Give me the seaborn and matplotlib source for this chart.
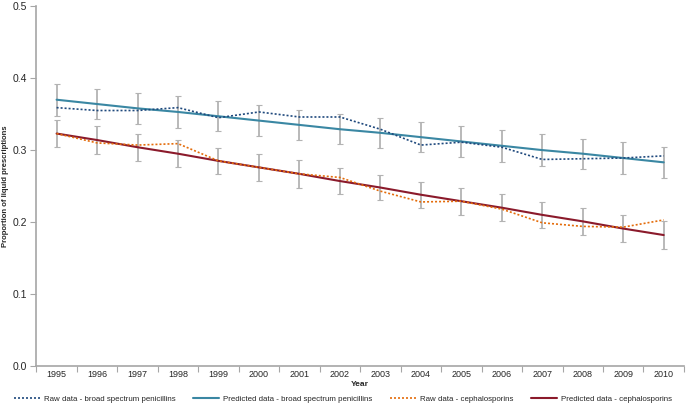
import numpy as np
import pandas as pd
import matplotlib
matplotlib.use("Agg")
import matplotlib.pyplot as plt
import seaborn as sns

years = list(range(1995, 2011))

pen_raw = [0.359, 0.355, 0.355, 0.359, 0.345, 0.353, 0.346, 0.346,
           0.329, 0.307, 0.311, 0.304, 0.287, 0.288, 0.289, 0.292]
pen_pred = [0.370, 0.364, 0.358, 0.353, 0.347, 0.341, 0.335, 0.329,
            0.324, 0.318, 0.312, 0.306, 0.300, 0.295, 0.289, 0.283]
pen_err = [0.022, 0.021, 0.022, 0.022, 0.021, 0.021, 0.021, 0.021,
           0.021, 0.021, 0.021, 0.022, 0.022, 0.021, 0.022, 0.022]

ceph_raw = [0.323, 0.310, 0.307, 0.309, 0.285, 0.276, 0.267, 0.262,
            0.243, 0.228, 0.229, 0.218, 0.199, 0.194, 0.193, 0.203]
ceph_pred = [0.323, 0.314, 0.304, 0.295, 0.285, 0.276, 0.267, 0.257,
             0.248, 0.238, 0.229, 0.220, 0.210, 0.201, 0.191, 0.182]
ceph_err = [0.019, 0.019, 0.019, 0.019, 0.018, 0.019, 0.019, 0.018,
            0.018, 0.018, 0.019, 0.019, 0.018, 0.019, 0.019, 0.020]

df = pd.DataFrame({
    "Year": years,
    "pen_raw": pen_raw,
    "pen_pred": pen_pred,
    "ceph_raw": ceph_raw,
    "ceph_pred": ceph_pred,
})

sns.set_style("white")
plt.rcParams["font.family"] = ["Liberation Sans", "DejaVu Sans"]

fig, ax = plt.subplots(figsize=(6.86, 4.09), dpi=100)
fig.subplots_adjust(left=0.053, right=0.997, top=0.985, bottom=0.105)

# error bars sit on the predicted values
err_color = "#b3b3b3"
ax.errorbar(df["Year"], df["pen_pred"], yerr=pen_err, fmt="none",
            ecolor=err_color, elinewidth=1.3, capsize=2.5, capthick=0.8, zorder=1)
ax.errorbar(df["Year"], df["ceph_pred"], yerr=ceph_err, fmt="none",
            ecolor=err_color, elinewidth=1.3, capsize=2.5, capthick=0.8, zorder=1)

sns.lineplot(data=df, x="Year", y="pen_raw", ax=ax, color="#1f497d",
             linestyle=(0, (1.2, 1.2)), linewidth=1.2,
             label="Raw data - broad spectrum penicillins", zorder=3)
sns.lineplot(data=df, x="Year", y="pen_pred", ax=ax, color="#3a87a3",
             linewidth=1.5, label="Predicted data - broad spectrum penicillins", zorder=2)
sns.lineplot(data=df, x="Year", y="ceph_raw", ax=ax, color="#e46c0a",
             linestyle=(0, (1.2, 1.2)), linewidth=1.2,
             label="Raw data - cephalosporins", zorder=3)
sns.lineplot(data=df, x="Year", y="ceph_pred", ax=ax, color="#8b1a2b",
             linewidth=1.5, label="Predicted data - cephalosporins", zorder=2)

ax.set_xlim(years[0] - 0.5, years[-1] + 0.5)
ax.set_ylim(0, 0.5)
ax.set_xticks(years)
ax.set_xticklabels([str(y) for y in years], fontsize=6.5)
ax.set_xticks(np.arange(years[0] - 0.5, years[-1] + 1, 1), minor=True)
ax.tick_params(axis="x", which="major", length=0, pad=3)
ax.tick_params(axis="x", which="minor", length=4, width=0.8, color="#a6a6a6", direction="out")
ax.set_yticks([0.0, 0.1, 0.2, 0.3, 0.4, 0.5])
ax.set_yticklabels(["0.0", "0.1", "0.2", "0.3", "0.4", "0.5"], fontsize=7.5)
ax.tick_params(axis="y", length=4, width=0.8, color="#a6a6a6", direction="out", pad=3)
ax.xaxis.set_ticks_position("bottom")
ax.yaxis.set_ticks_position("left")

for s in ["top", "right"]:
    ax.spines[s].set_visible(False)
for s in ["left", "bottom"]:
    ax.spines[s].set_color("#a6a6a6")
    ax.spines[s].set_linewidth(1.2)

ax.set_xlabel("Year", fontsize=6, fontweight="bold", labelpad=1)
ax.set_ylabel("Proportion of liquid prescriptions", fontsize=5.5, fontweight="bold", labelpad=2)

ax.legend(loc="lower center", bbox_to_anchor=(0.5, -0.003), bbox_transform=fig.transFigure,
          ncol=4, frameon=False, fontsize=5.7, handlelength=3.3, columnspacing=2.2,
          handletextpad=0.5)

fig.savefig("out.png", dpi=100)
